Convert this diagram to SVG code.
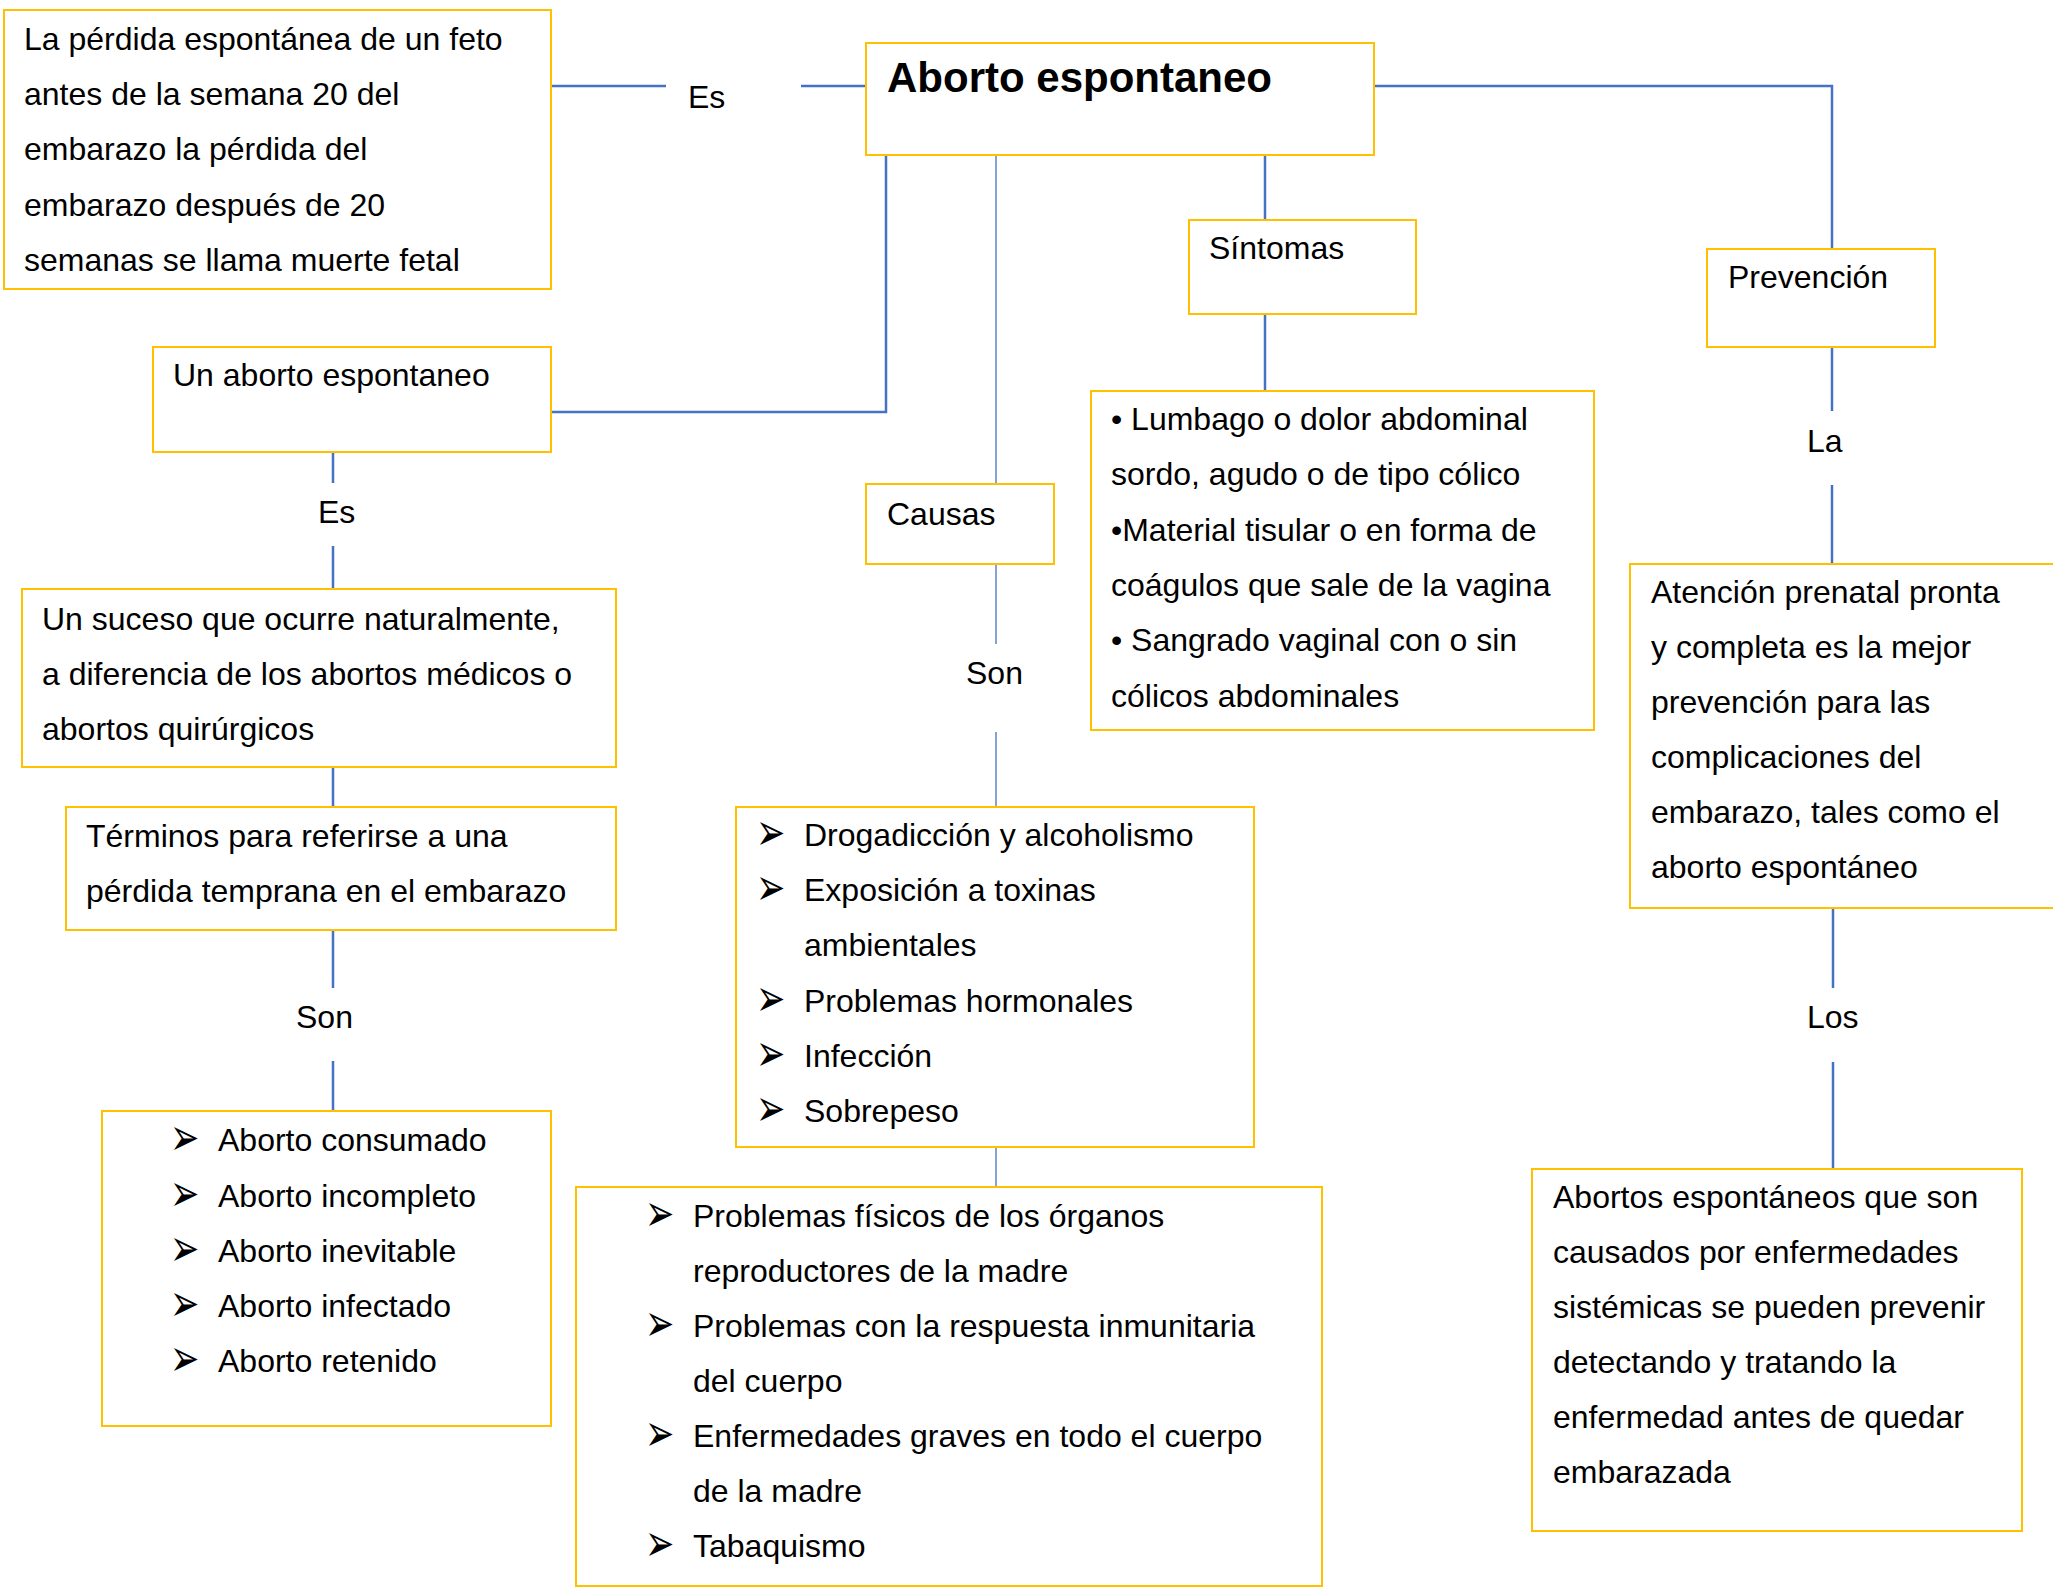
<svg xmlns="http://www.w3.org/2000/svg" xmlns:xlink="http://www.w3.org/1999/xlink" width="2053" height="1587" viewBox="0 0 2053 1587">
<style>
.box{fill:#ffffff;stroke:#FFC000;stroke-width:2}
.t{font-family:"Liberation Sans",Arial,sans-serif;font-size:32px;fill:#000000}
.title{font-family:"Liberation Sans",Arial,sans-serif;font-size:42px;font-weight:bold;fill:#000000}
.b{font-family:"DejaVu Sans",sans-serif;font-size:35px;fill:#000000}
.c{fill:none;stroke:#4472C4;stroke-width:2.5}
.thin{fill:none;stroke:#4472C4;stroke-width:1.3}
</style>
<defs>
<text id="arr" class="b" x="0" y="0">➢</text>
</defs>
<rect x="0" y="0" width="2053" height="1587" fill="#ffffff"/>
<g id="connectors">
<line class="c" x1="551" y1="86" x2="666" y2="86"/>
<line class="c" x1="801" y1="86" x2="866" y2="86"/>
<text class="t" x="688" y="108">Es</text>
<polyline class="c" points="886,155 886,412 551,412"/>
<line class="thin" x1="996" y1="155" x2="996" y2="484"/>
<line class="thin" x1="996" y1="564" x2="996" y2="644"/>
<text class="t" x="966" y="684">Son</text>
<line class="thin" x1="996" y1="732" x2="996" y2="807"/>
<line class="thin" x1="996" y1="1147" x2="996" y2="1187"/>
<line class="c" x1="1265" y1="155" x2="1265" y2="220"/>
<line class="c" x1="1265" y1="314" x2="1265" y2="391"/>
<polyline class="c" points="1374,86 1832,86 1832,249"/>
<line class="c" x1="1832" y1="347" x2="1832" y2="411"/>
<text class="t" x="1807" y="452">La</text>
<line class="c" x1="1832" y1="485" x2="1832" y2="564"/>
<line class="c" x1="1833" y1="908" x2="1833" y2="988"/>
<text class="t" x="1807" y="1028">Los</text>
<line class="c" x1="1833" y1="1062" x2="1833" y2="1169"/>
<line class="c" x1="333" y1="452" x2="333" y2="483"/>
<text class="t" x="318" y="523">Es</text>
<line class="c" x1="333" y1="546" x2="333" y2="589"/>
<line class="c" x1="333" y1="767" x2="333" y2="807"/>
<line class="c" x1="333" y1="930" x2="333" y2="988"/>
<text class="t" x="296" y="1028">Son</text>
<line class="c" x1="333" y1="1061" x2="333" y2="1111"/>
</g>
<g id="definicion">
<rect class="box" x="4" y="10" width="547" height="279"/>
<text class="t" x="24" y="50">La pérdida espontánea de un feto</text>
<text class="t" x="24" y="105">antes de la semana 20 del</text>
<text class="t" x="24" y="160">embarazo la pérdida del</text>
<text class="t" x="24" y="216">embarazo después de 20</text>
<text class="t" x="24" y="271">semanas se llama muerte fetal</text>
</g>
<g id="aborto-espontaneo">
<rect class="box" x="866" y="43" width="508" height="112"/>
<text class="title" x="887" y="92">Aborto espontaneo</text>
</g>
<g id="un-aborto">
<rect class="box" x="153" y="347" width="398" height="105"/>
<text class="t" x="173" y="386">Un aborto espontaneo</text>
</g>
<g id="suceso">
<rect class="box" x="22" y="589" width="594" height="178"/>
<text class="t" x="42" y="630">Un suceso que ocurre naturalmente,</text>
<text class="t" x="42" y="685">a diferencia de los abortos médicos o</text>
<text class="t" x="42" y="740">abortos quirúrgicos</text>
</g>
<g id="terminos">
<rect class="box" x="66" y="807" width="550" height="123"/>
<text class="t" x="86" y="847">Términos para referirse a una</text>
<text class="t" x="86" y="902">pérdida temprana en el embarazo</text>
</g>
<g id="tipos">
<rect class="box" x="102" y="1111" width="449" height="315"/>
<use xlink:href="#arr" href="#arr" transform="translate(170,1155) scale(1,1.5)"/><text class="t" x="218" y="1151">Aborto consumado</text>
<use xlink:href="#arr" href="#arr" transform="translate(170,1211) scale(1,1.5)"/><text class="t" x="218" y="1207">Aborto incompleto</text>
<use xlink:href="#arr" href="#arr" transform="translate(170,1266) scale(1,1.5)"/><text class="t" x="218" y="1262">Aborto inevitable</text>
<use xlink:href="#arr" href="#arr" transform="translate(170,1321) scale(1,1.5)"/><text class="t" x="218" y="1317">Aborto infectado</text>
<use xlink:href="#arr" href="#arr" transform="translate(170,1376) scale(1,1.5)"/><text class="t" x="218" y="1372">Aborto retenido</text>
</g>
<g id="causas">
<rect class="box" x="866" y="484" width="188" height="80"/>
<text class="t" x="887" y="525">Causas</text>
</g>
<g id="lista-causas">
<rect class="box" x="736" y="807" width="518" height="340"/>
<use xlink:href="#arr" href="#arr" transform="translate(756,850) scale(1,1.5)"/><text class="t" x="804" y="846">Drogadicción y alcoholismo</text>
<use xlink:href="#arr" href="#arr" transform="translate(756,905) scale(1,1.5)"/><text class="t" x="804" y="901">Exposición a toxinas</text>
<text class="t" x="804" y="956">ambientales</text>
<use xlink:href="#arr" href="#arr" transform="translate(756,1016) scale(1,1.5)"/><text class="t" x="804" y="1012">Problemas hormonales</text>
<use xlink:href="#arr" href="#arr" transform="translate(756,1071) scale(1,1.5)"/><text class="t" x="804" y="1067">Infección</text>
<use xlink:href="#arr" href="#arr" transform="translate(756,1126) scale(1,1.5)"/><text class="t" x="804" y="1122">Sobrepeso</text>
</g>
<g id="otras-causas">
<rect class="box" x="576" y="1187" width="746" height="399"/>
<use xlink:href="#arr" href="#arr" transform="translate(645,1231) scale(1,1.5)"/><text class="t" x="693" y="1227">Problemas físicos de los órganos</text>
<text class="t" x="693" y="1282">reproductores de la madre</text>
<use xlink:href="#arr" href="#arr" transform="translate(645,1341) scale(1,1.5)"/><text class="t" x="693" y="1337">Problemas con la respuesta inmunitaria</text>
<text class="t" x="693" y="1392">del cuerpo</text>
<use xlink:href="#arr" href="#arr" transform="translate(645,1451) scale(1,1.5)"/><text class="t" x="693" y="1447">Enfermedades graves en todo el cuerpo</text>
<text class="t" x="693" y="1502">de la madre</text>
<use xlink:href="#arr" href="#arr" transform="translate(645,1561) scale(1,1.5)"/><text class="t" x="693" y="1557">Tabaquismo</text>
</g>
<g id="sintomas">
<rect class="box" x="1189" y="220" width="227" height="94"/>
<text class="t" x="1209" y="259">Síntomas</text>
</g>
<g id="lista-sintomas">
<rect class="box" x="1091" y="391" width="503" height="339"/>
<text class="t" x="1111" y="430">• Lumbago o dolor abdominal</text>
<text class="t" x="1111" y="485">sordo, agudo o de tipo cólico</text>
<text class="t" x="1111" y="541">•Material tisular o en forma de</text>
<text class="t" x="1111" y="596">coágulos que sale de la vagina</text>
<text class="t" x="1111" y="651">• Sangrado vaginal con o sin</text>
<text class="t" x="1111" y="707">cólicos abdominales</text>
</g>
<g id="prevencion">
<rect class="box" x="1707" y="249" width="228" height="98"/>
<text class="t" x="1728" y="288">Prevención</text>
</g>
<g id="atencion">
<rect class="box" x="1630" y="564" width="440" height="344"/>
<text class="t" x="1651" y="603">Atención prenatal pronta</text>
<text class="t" x="1651" y="658">y completa es la mejor</text>
<text class="t" x="1651" y="713">prevención para las</text>
<text class="t" x="1651" y="768">complicaciones del</text>
<text class="t" x="1651" y="823">embarazo, tales como el</text>
<text class="t" x="1651" y="878">aborto espontáneo</text>
</g>
<g id="sistemicas">
<rect class="box" x="1532" y="1169" width="490" height="362"/>
<text class="t" x="1553" y="1208">Abortos espontáneos que son</text>
<text class="t" x="1553" y="1263">causados por enfermedades</text>
<text class="t" x="1553" y="1318">sistémicas se pueden prevenir</text>
<text class="t" x="1553" y="1373">detectando y tratando la</text>
<text class="t" x="1553" y="1428">enfermedad antes de quedar</text>
<text class="t" x="1553" y="1483">embarazada</text>
</g>
</svg>
